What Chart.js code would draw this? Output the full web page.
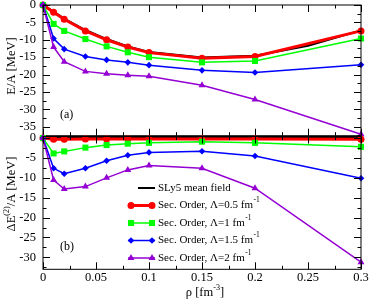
<!DOCTYPE html>
<html lang="en">
<head>
<meta charset="UTF-8">
<title>SLy5 second order</title>
<script src="https://cdn.jsdelivr.net/npm/chart.js"></script>
<style>
    body { margin: 0; background: #fff; }
    #wrap { position: relative; width: 373px; height: 305px; }
    canvas { position: absolute; left: 0; }
    #top-chart { top: 0; }
    #bottom-chart { top: 130px; }
</style>
</head>
<body>
<div id="wrap">
    <canvas id="top-chart" width="373" height="140"></canvas>
    <canvas id="bottom-chart" width="373" height="175"></canvas>
</div>
<script>
    // densities (fm^-3)
    const rho = [0, 0.01, 0.02, 0.04, 0.06, 0.08, 0.1, 0.15, 0.2, 0.3];
    const rhoMeanField = [0, 0.01, 0.02, 0.04, 0.06, 0.08, 0.1, 0.15, 0.2, 0.25, 0.3];

    // panel (a): E/A [MeV]
    const eMeanField = [0, -1.9, -3.9, -7.2, -9.8, -11.9, -13.5, -15.1, -14.6, -11.7, -7.3];
    const eLambda05 = [0, -2.1, -4.1, -7.45, -10.0, -12.1, -13.7, -15.3, -14.8, -7.45];
    const eLambda1 = [0, -5.45, -7.45, -9.8, -11.9, -13.6, -15.0, -16.5, -16.1, -9.65];
    const eLambda15 = [0, -9.65, -12.7, -14.8, -15.8, -16.5, -17.3, -18.8, -19.4, -17.2];
    const eLambda2 = [0, -12.1, -16.3, -19.1, -19.8, -20.2, -20.5, -23.1, -27.2, -37.2];

    // panel (b): second order correction dE(2)/A [MeV]
    const dMeanField = [0, 0, 0, 0, 0, 0, 0, 0, 0, 0];
    const dLambda05 = [0, -0.3, -0.3, -0.2, -0.2, -0.2, -0.2, -0.2, -0.2, -0.3];
    const dLambda1 = [0, -3.85, -3.35, -2.4, -1.75, -1.4, -1.2, -0.9, -1.2, -2.2];
    const dLambda15 = [0, -7.6, -8.95, -7.6, -5.7, -4.3, -3.6, -3.3, -4.5, -10.1];
    const dLambda2 = [0, -10.55, -12.8, -12.2, -10.0, -8.0, -6.9, -7.6, -12.6, -31.2];

    // ticks
    const xTicks = [0, 0.05, 0.1, 0.15, 0.2, 0.25, 0.3];
    const xMinor = [0.025, 0.075, 0.125, 0.175, 0.225, 0.275];
    const yTicksA = [0, -5, -10, -15, -20, -25, -30, -35];
    const yMinorA = [-2.5, -7.5, -12.5, -17.5, -22.5, -27.5, -32.5, -37.5];
    const yTicksB = [0, -5, -10, -15, -20, -25, -30];
    const yMinorB = [-2.5, -7.5, -12.5, -17.5, -22.5, -27.5, -32.5];

    const legendNames = ['SLy5 mean field', 'Sec. Order, Λ=0.5 fm', 'Sec. Order, Λ=1 fm',
        'Sec. Order, Λ=1.5 fm', 'Sec. Order, Λ=2 fm'];

    const SERIF = "'Liberation Serif', 'Times New Roman', serif";

    const styles = [
        { color: '#000000', width: 2, point: false, radius: 0, order: 5 },
        { color: '#ff0000', width: 3, point: 'circle', radius: 3.5, order: 4 },
        { color: '#00ff00', width: 1.5, point: 'rect', radius: 4.3, order: 3 },
        { color: '#0000ff', width: 1.5, point: 'rectRot', radius: 3.3, order: 2 },
        { color: '#9400d3', width: 1.5, point: 'triangle', radius: 4, order: 1 }
    ];

    function makeDataset(xs, ys, st) {
        return {
            data: xs.map((x, i) => ({ x: x, y: ys[i] })),
            borderColor: st.color,
            backgroundColor: st.color,
            borderWidth: st.width,
            pointStyle: st.point,
            pointRadius: st.radius,
            pointBorderWidth: 0,
            tension: 0,
            clip: false,
            order: st.order
        };
    }

    function drawRich(ctx, parts, x, y, size) {
        // parts: [text, isSuperscript]
        let total = 0;
        parts.forEach(p => {
            ctx.font = (p[1] ? size * 0.65 : size) + 'px ' + SERIF;
            total += ctx.measureText(p[0]).width;
        });
        let cx = x - total / 2;
        parts.forEach(p => {
            ctx.font = (p[1] ? size * 0.65 : size) + 'px ' + SERIF;
            ctx.fillText(p[0], cx, p[1] ? y - size * 0.4 : y);
            cx += ctx.measureText(p[0]).width;
        });
    }

    const decor = {
        id: 'decor',
        afterDraw(chart, args, opts) {
            const ctx = chart.ctx;
            const a = chart.chartArea;
            const xs = chart.scales.x, ys = chart.scales.y;
            ctx.save();
            ctx.strokeStyle = '#000';
            ctx.lineWidth = 1;
            ctx.strokeRect(a.left, a.top, a.right - a.left, a.bottom - a.top);

            ctx.beginPath();
            const tickX = (v, len) => {
                const p = Math.round(xs.getPixelForValue(v)) + 0.5;
                ctx.moveTo(p, a.top); ctx.lineTo(p, a.top + len);
                ctx.moveTo(p, a.bottom); ctx.lineTo(p, a.bottom - len);
            };
            const tickY = (v, len) => {
                const p = Math.round(ys.getPixelForValue(v)) + 0.5;
                if (p < a.top || p > a.bottom) return;
                ctx.moveTo(a.left, p); ctx.lineTo(a.left + len, p);
                ctx.moveTo(a.right, p); ctx.lineTo(a.right - len, p);
            };
            xTicks.forEach(v => tickX(v, 7));
            xMinor.forEach(v => tickX(v, 3.5));
            opts.yMajor.forEach(v => tickY(v, 7));
            opts.yMinor.forEach(v => tickY(v, 3.5));
            ctx.stroke();

            ctx.fillStyle = '#000';
            ctx.textBaseline = 'middle';
            ctx.textAlign = 'left';
            ctx.font = '12px ' + SERIF;
            ctx.fillText(opts.tag, opts.tagX, opts.tagY);

            // rotated y title
            ctx.save();
            ctx.translate(opts.titleX, opts.titleY);
            ctx.rotate(-Math.PI / 2);
            drawRich(ctx, opts.title, 0, 0, 12.5);
            ctx.restore();

            if (opts.xTitle) {
                drawRich(ctx, opts.xTitle, opts.xTitleX, opts.xTitleY, 12.5);
            }

            if (opts.legend) {
                const L = opts.legend;
                legendNames.forEach((name, i) => {
                    const st = styles[i];
                    const y = L.y + i * L.dy;
                    ctx.strokeStyle = st.color;
                    ctx.fillStyle = st.color;
                    ctx.lineWidth = st.width;
                    ctx.beginPath();
                    ctx.moveTo(i === 0 ? L.x0 + 10 : L.x0, y);
                    ctx.lineTo(L.x1, y);
                    ctx.stroke();
                    if (st.point) {
                        const po = { pointStyle: st.point, radius: st.radius, rotation: 0, borderWidth: 0 };
                        Chart.helpers.drawPoint(ctx, po, L.x0 + 3, y);
                        Chart.helpers.drawPoint(ctx, po, L.x1 - 3, y);
                    }
                    ctx.fillStyle = '#000';
                    ctx.font = '11px ' + SERIF;
                    ctx.textAlign = 'left';
                    ctx.fillText(name, L.tx, y);
                    if (i > 0) {
                        const w = ctx.measureText(name).width;
                        ctx.font = '7.5px ' + SERIF;
                        ctx.fillText('-1', L.tx + w + 0.5, y - 5);
                    }
                });
            }
            ctx.restore();
        }
    };

    function baseOptions(yMin, yMax, yTicks, pad, xVisible) {
        return {
            responsive: false,
            animation: false,
            devicePixelRatio: 1,
            layout: { padding: pad },
            plugins: { legend: { display: false }, tooltip: { enabled: false } },
            scales: {
                x: {
                    type: 'linear',
                    min: 0, max: 0.3,
                    display: xVisible,
                    grid: { display: false, drawTicks: false },
                    border: { display: false },
                    afterBuildTicks: s => { s.ticks = xTicks.map(v => ({ value: v })); },
                    afterFit: s => {
                        s.height = xVisible ? 35.7 : 0;
                        s.paddingLeft = 0; s.paddingRight = 0;
                    },
                    ticks: {
                        padding: 1,
                        color: '#000',
                        maxRotation: 0,
                        autoSkip: false,
                        font: { family: SERIF, size: 12.5 },
                        callback: v => String(v)
                    }
                },
                y: {
                    min: yMin, max: yMax,
                    grid: { display: false, drawTicks: false },
                    border: { display: false },
                    afterBuildTicks: s => { s.ticks = yTicks.map(v => ({ value: v })); },
                    afterFit: s => {
                        s.width = 43;
                        s.paddingTop = 0; s.paddingBottom = 0;
                    },
                    ticks: {
                        padding: 7,
                        color: '#000',
                        autoSkip: false,
                        font: { family: SERIF, size: 12.5 },
                        callback: v => String(v)
                    }
                }
            }
        };
    }

    const optsA = baseOptions(-37.6, 0, yTicksA, { top: 5, right: 12, bottom: 3.5, left: 0 }, false);
    optsA.plugins.decor = {
        yMajor: yTicksA, yMinor: yMinorA,
        tag: '(a)', tagX: 60, tagY: 115,
        title: [['E/A [MeV]', false]], titleX: 12, titleY: 66
    };
    new Chart(document.getElementById('top-chart'), {
        type: 'line',
        data: {
            datasets: [
                makeDataset(rhoMeanField, eMeanField, styles[0]),
                makeDataset(rho, eLambda05, styles[1]),
                makeDataset(rho, eLambda1, styles[2]),
                makeDataset(rho, eLambda15, styles[3]),
                makeDataset(rho, eLambda2, styles[4])
            ]
        },
        options: optsA,
        plugins: [decor]
    });

    const optsB = baseOptions(-33, 0.4, yTicksB, { top: 6.5, right: 12, bottom: 0, left: 0 }, true);
    optsB.plugins.decor = {
        yMajor: yTicksB, yMinor: yMinorB,
        tag: '(b)', tagX: 60, tagY: 117,
        title: [['ΔE', false], ['(2)', true], ['/A [MeV]', false]], titleX: 12, titleY: 64,
        xTitle: [['ρ [fm', false], ['-3', true], [']', false]], xTitleX: 205, xTitleY: 163,
        legend: { x0: 128, x1: 155, tx: 158, y: 58, dy: 17.5 }
    };
    new Chart(document.getElementById('bottom-chart'), {
        type: 'line',
        data: {
            datasets: [
                makeDataset(rho, dMeanField, styles[0]),
                makeDataset(rho, dLambda05, styles[1]),
                makeDataset(rho, dLambda1, styles[2]),
                makeDataset(rho, dLambda15, styles[3]),
                makeDataset(rho, dLambda2, styles[4])
            ]
        },
        options: optsB,
        plugins: [decor]
    });
</script>
</body>
</html>
